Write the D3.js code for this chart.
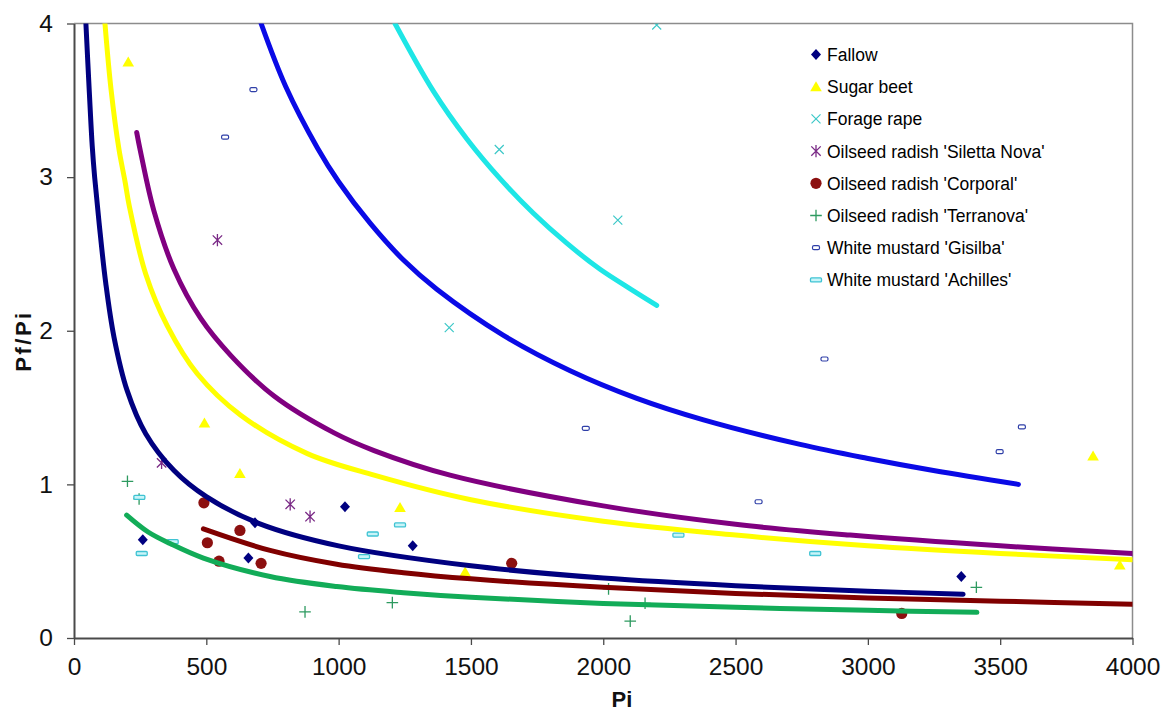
<!DOCTYPE html>
<html><head><meta charset="utf-8">
<script src="https://cdn.jsdelivr.net/npm/d3@7"></script>
<style>
body{margin:0;background:#fff}
svg{display:block}
text{font-family:"Liberation Sans",Arial,sans-serif}
</style></head>
<body><svg id="c" width="1163" height="711"></svg>
<script>
// ---------------- DATA ----------------
const seriesNames = ["Fallow","Sugar beet","Forage rape","Oilseed radish 'Siletta Nova'","Oilseed radish 'Corporal'","Oilseed radish 'Terranova'","White mustard 'Gisilba'","White mustard 'Achilles'"];
const xTicks = [0,500,1000,1500,2000,2500,3000,3500,4000];
const yTicks = [0,1,2,3,4];

// observed points [Pi, Pf/Pi]
const fallowPts   = [[260,0.64],[659,0.52],[684,0.75],[1024,0.855],[1280,0.60],[3353,0.40]];
const sugarPts    = [[205,3.75],[493,1.40],[627,1.07],[1232,0.85],[1478,0.43],[3851,1.185],[3952,0.475]];
const foragePts   = [[2202,3.99],[1607,3.18],[2055,2.72],[1418,2.02]];
const silettaPts  = [[542,2.59],[331,1.14],[817,0.87],[892,0.79]];
const corporalPts = [[491,0.88],[627,0.70],[504,0.62],[548,0.50],[707,0.486],[1654,0.486],[3128,0.16]];
const terraPts    = [[202,1.02],[246,0.905],[873,0.17],[1203,0.23],[2102,0.11],[2020,0.32],[2158,0.226],[3410,0.33]];
const gisilbaPts  = [[678,3.57],[571,3.26],[1934,1.365],[2587,0.887],[2836,1.816],[3582,1.374],[3498,1.213]];
const achillesPts = [[247,0.916],[256,0.55],[373,0.627],[1129,0.677],[1232,0.736],[1096,0.53],[2284,0.67],[2801,0.55]];

// trend curves [Pi, Pf/Pi]
const fallowFit   = [[45,4.0],[58,3.55],[69,3.2],[78,3.0],[95,2.7],[120,2.31],[151,1.96],[201,1.61],[271,1.33],[378,1.09],[500,0.92],[700,0.745],[1000,0.60],[1500,0.47],[2000,0.39],[2500,0.34],[3000,0.305],[3360,0.285]];
const sugarFit    = [[117,4.0],[140,3.57],[170,3.18],[193,2.97],[208,2.82],[271,2.37],[353,2.03],[466,1.72],[630,1.45],[882,1.20],[1134,1.06],[1500,0.90],[2000,0.76],[2500,0.67],[3000,0.60],[3500,0.55],[4000,0.51]];
const silettaFit  = [[237,3.29],[252,3.16],[302,2.78],[378,2.40],[479,2.08],[592,1.84],[756,1.575],[983,1.335],[1134,1.22],[1421,1.06],[2000,0.86],[2500,0.74],[2933,0.67],[3500,0.60],[4000,0.55]];
const gisilbaFit  = [[707,4.0],[800,3.59],[920,3.19],[1000,2.97],[1119,2.70],[1245,2.46],[1371,2.27],[1623,1.97],[1875,1.74],[2127,1.56],[2379,1.42],[2744,1.26],[2996,1.17],[3248,1.09],[3569,1.0]];
const forageFit   = [[1213,4.0],[1358,3.56],[1484,3.25],[1610,2.99],[1736,2.765],[1862,2.57],[1988,2.40],[2114,2.26],[2202,2.165]];
const corporalFit = [[489,0.71],[741,0.57],[993,0.48],[1245,0.425],[1500,0.385],[2000,0.33],[2500,0.29],[3000,0.26],[3500,0.24],[4000,0.22]];
const terraFit    = [[199,0.80],[280,0.69],[363,0.615],[489,0.52],[741,0.40],[993,0.335],[1245,0.295],[1500,0.265],[2000,0.225],[2500,0.20],[3000,0.18],[3412,0.167]];

// ---------------- STYLES ----------------
const markerStyle = {
  "Fallow": {type:"diamond", fill:"#000080", stroke:"none"},
  "Sugar beet": {type:"triangle", fill:"#ffff00", stroke:"none"},
  "Forage rape": {type:"x", fill:"none", stroke:"#3cc8c8"},
  "Oilseed radish 'Siletta Nova'": {type:"asterisk", fill:"none", stroke:"#7a2a86"},
  "Oilseed radish 'Corporal'": {type:"circle", fill:"#8c1010", stroke:"none"},
  "Oilseed radish 'Terranova'": {type:"plus", fill:"none", stroke:"#2e9a60"},
  "White mustard 'Gisilba'": {type:"smallrect", fill:"#ffffff", stroke:"#2f3fa8"},
  "White mustard 'Achilles'": {type:"dash", fill:"#c8f4f8", stroke:"#3fc3d3"}
};
const pointSets = [fallowPts,sugarPts,foragePts,silettaPts,corporalPts,terraPts,gisilbaPts,achillesPts];
const fits = [
  {data:fallowFit, color:"#000080"},
  {data:sugarFit, color:"#ffff00"},
  {data:silettaFit, color:"#800080"},
  {data:gisilbaFit, color:"#0a0ae6"},
  {data:forageFit, color:"#1ee6e6"},
  {data:corporalFit, color:"#800000"},
  {data:terraFit, color:"#12ac58"}
];

// ---------------- LAYOUT ----------------
const L = 74, R = 1132.5, T = 23.5, B = 638;
const svg = d3.select("#c");
const x = d3.scaleLinear().domain([0,4000]).range([L,R]);
const y = d3.scaleLinear().domain([0,4]).range([B,T]);

svg.append("defs").append("clipPath").attr("id","plot")
  .append("rect").attr("x",L).attr("y",T).attr("width",R-L).attr("height",B-T);

// plot border (top/right)
svg.append("path").attr("d",`M${L},${T}H${R}V${B}`).attr("fill","none").attr("stroke","#8c8c8c").attr("stroke-width",1.5);

// axes
const xAxis = svg.append("g").attr("transform",`translate(0,${B})`)
  .call(d3.axisBottom(x).tickValues(xTicks).tickSize(7).tickSizeOuter(0).tickPadding(13).tickFormat(d3.format("d")));
const yAxis = svg.append("g").attr("transform",`translate(${L},0)`)
  .call(d3.axisLeft(y).tickValues(yTicks).tickSize(7).tickSizeOuter(0).tickPadding(14).tickFormat(d3.format("d")));
[xAxis,yAxis].forEach(g=>{
  g.select(".domain").attr("stroke","#4a4a4a").attr("stroke-width",2);
  g.selectAll(".tick line").attr("stroke","#4a4a4a").attr("stroke-width",1.3);
  g.selectAll(".tick text").attr("font-size",24.5).attr("fill","#111").style("font-family",'"Liberation Sans",Arial,sans-serif');
});

// axis titles
svg.append("text").attr("x",622).attr("y",707).attr("text-anchor","middle")
  .attr("font-size",22).attr("font-weight","bold").attr("fill","#111").text("Pi");
svg.append("text").attr("transform","translate(31,341) rotate(-90)").attr("text-anchor","middle")
  .attr("font-size",22).attr("font-weight","bold").attr("letter-spacing",2.5).attr("fill","#111").text("Pf/Pi");

// marker drawing
function drawMarker(g, st){
  switch(st.type){
    case "diamond": g.append("path").attr("d","M0,-5.5L5,0L0,5.5L-5,0Z").attr("fill",st.fill); break;
    case "triangle": g.append("path").attr("d","M0,-5.5L5.8,4.5L-5.8,4.5Z").attr("fill",st.fill); break;
    case "x": g.append("path").attr("d","M-4.5,-4.5L4.5,4.5M-4.5,4.5L4.5,-4.5").attr("stroke",st.stroke).attr("stroke-width",1.2).attr("fill","none"); break;
    case "asterisk": g.append("path").attr("d","M-4.7,-4.7L4.7,4.7M-4.7,4.7L4.7,-4.7M0,-6.2L0,6.2").attr("stroke",st.stroke).attr("stroke-width",1.3).attr("fill","none"); break;
    case "circle": g.append("circle").attr("r",5.6).attr("fill",st.fill); break;
    case "plus": g.append("path").attr("d","M-5.8,0L5.8,0M0,-5.8L0,5.8").attr("stroke",st.stroke).attr("stroke-width",1.3).attr("fill","none"); break;
    case "smallrect": g.append("rect").attr("x",-3.5).attr("y",-2).attr("width",7).attr("height",4).attr("rx",1.5)
        .attr("fill",st.fill).attr("stroke",st.stroke).attr("stroke-width",1.2); break;
    case "dash": g.append("rect").attr("x",-5.5).attr("y",-2).attr("width",11).attr("height",4).attr("rx",1)
        .attr("fill",st.fill).attr("stroke",st.stroke).attr("stroke-width",1.3); break;
  }
}

// points
const pts = svg.append("g").attr("clip-path","url(#plot)");
seriesNames.forEach((name,i)=>{
  const st = markerStyle[name];
  pointSets[i].forEach(d=>{
    const g = pts.append("g").attr("transform",`translate(${x(d[0])},${y(d[1])})`);
    drawMarker(g, st);
  });
});

// trend curves (over markers)
const line = d3.line().x(d=>x(d[0])).y(d=>y(d[1])).curve(d3.curveCatmullRom.alpha(0.5));
const curves = svg.append("g").attr("clip-path","url(#plot)");
fits.forEach(f=>{
  curves.append("path").attr("d",line(f.data)).attr("fill","none")
    .attr("stroke",f.color).attr("stroke-width",5).attr("stroke-linecap","round").attr("stroke-linejoin","round");
});

// legend
const leg = svg.append("g");
seriesNames.forEach((name,i)=>{
  const cy = 54.5 + i*32.2;
  const g = leg.append("g").attr("transform",`translate(816,${cy})`);
  drawMarker(g, markerStyle[name]);
  leg.append("text").attr("transform",`translate(827,${cy+6.5}) scale(1,1.1)`).attr("font-size",17.5).attr("fill","#000").text(name);
});
</script></body></html>
